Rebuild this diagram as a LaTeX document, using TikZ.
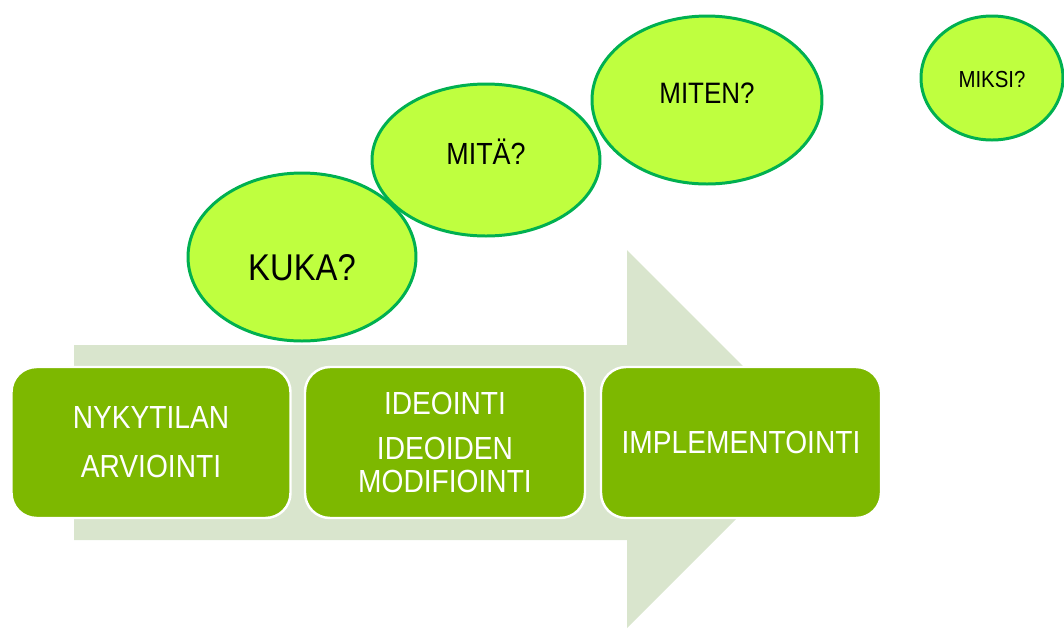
\documentclass[tikz,border=0pt]{standalone}
\usepackage{tikz}
\usetikzlibrary{shapes.geometric, positioning}
\usepackage{fontspec}
\setmainfont{Liberation Sans}[FakeStretch=0.88]
\usepackage{xcolor}
\definecolor{PfeilGrau}{HTML}{D9E5CD}
\definecolor{StufeGruen}{HTML}{7DB800}
\definecolor{BlaseGruen}{HTML}{BFFF3F}
\definecolor{RandGruen}{HTML}{00B050}

\tikzset{
    stufe/.style={rectangle, rounded corners=0.25cm, fill=StufeGruen, draw=white, line width=0.7pt,
                  minimum width=2.79cm, minimum height=1.51cm, align=center, text=white,
                  font=\fontsize{9.1}{9.4}\selectfont},
    blase/.style={ellipse, fill=BlaseGruen, draw=RandGruen, line width=0.85pt, inner sep=0pt},
}

\begin{document}
\begin{tikzpicture}
            \useasboundingbox (0,0) rectangle (10.64,6.28);
            % Pfeil im Hintergrund
            \fill[PfeilGrau] (0.74,2.83) -- (6.27,2.83) -- (6.27,3.78) -- (8.16,1.89)
                -- (6.27,0) -- (6.27,0.88) -- (0.74,0.88) -- cycle;
            % Stufen
            \node[stufe] (arviointi) at (1.51,1.855) {NYKYTILAN\\[4.5pt]ARVIOINTI};
            \node[stufe, minimum width=2.80cm] (ideointi) at (4.45,1.855) {IDEOINTI\\[3.4pt]IDEOIDEN\\MODIFIOINTI};
            \node[stufe, minimum width=2.80cm] (implementointi) at (7.41,1.855) {IMPLEMENTOINTI};
            % Fragen
            \node[blase, minimum width=2.28cm, minimum height=1.68cm,
                  label={[font=\fontsize{10.6}{12}\selectfont, yshift=-0.11cm]center:KUKA?}] (kuka) at (3.02,3.71) {};
            \node[blase, minimum width=2.28cm, minimum height=1.52cm,
                  label={[font=\fontsize{8.7}{10}\selectfont, yshift=0.08cm]center:MITÄ?}] (mita) at (4.86,4.68) {};
            \node[blase, minimum width=2.30cm, minimum height=1.68cm,
                  label={[font=\fontsize{8.4}{10}\selectfont, yshift=0.07cm]center:MITEN?}] (miten) at (7.07,5.28) {};
            \node[blase, minimum width=1.42cm, minimum height=1.24cm,
                  label={[font=\fontsize{6.6}{8}\selectfont, yshift=-0.02cm]center:MIKSI?}] (miksi) at (9.92,5.50) {};
        \end{tikzpicture}
\end{document}
